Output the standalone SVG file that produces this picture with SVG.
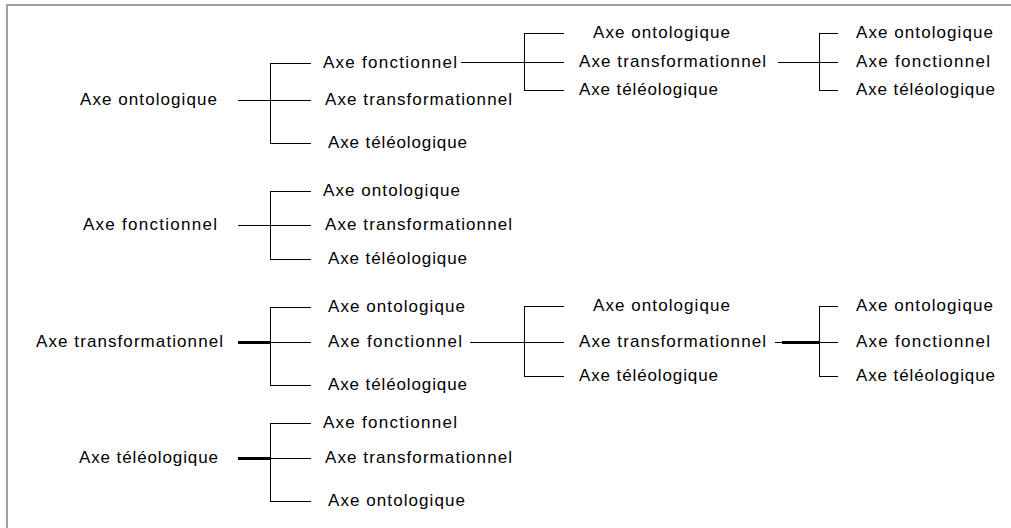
<svg xmlns="http://www.w3.org/2000/svg" width="1011" height="528" viewBox="0 0 1011 528">
<style>
.t{font-family:"Liberation Sans",Arial,sans-serif;font-size:17px;fill:#000}
.c{fill:none;stroke:#000;stroke-width:1}
.k{fill:none;stroke:#000;stroke-width:3}
.b{fill:none;stroke:#a0a0a0;stroke-width:2}
</style>
<rect width="1011" height="528" fill="#fff"/>
<path class="b" d="M7,530 V5 H1015"/>
<g id="connectors">
<path class="c" d="M238,100.5 H270.5 M270.5,63 V143.5 M270,63.5 H311 M270,100.5 H311 M270,143.5 H311"/>
<path class="c" d="M461,62.5 H524.5 M524.5,33 V90.5 M524,33.5 H564 M524,62.5 H564 M524,90.5 H564"/>
<path class="c" d="M778,62.5 H819.5 M819.5,33 V90.5 M819,33.5 H838 M819,62.5 H838 M819,90.5 H838"/>
<path class="c" d="M238,225.5 H270.5 M270.5,191 V259.5 M270,191.5 H311 M270,225.5 H311 M270,259.5 H311"/>
<path class="k" d="M238,342.5 H270"/>
<path class="c" d="M270.5,307 V385.5 M270,307.5 H311 M270,342.5 H311 M270,385.5 H311"/>
<path class="c" d="M470,342.5 H524.5 M524.5,306 V376.5 M524,306.5 H564 M524,342.5 H564 M524,376.5 H564"/>
<path class="c" d="M775,342.5 H782"/>
<path class="k" d="M782,342.5 H819"/>
<path class="c" d="M819.5,306 V376.5 M819,306.5 H838 M819,342.5 H838 M819,376.5 H838"/>
<path class="k" d="M238,458.5 H270"/>
<path class="c" d="M270.5,423 V501.5 M270,423.5 H311 M270,458.5 H311 M270,501.5 H311"/>
</g>
<g id="n_a0"><text class="t" x="80" y="105" textLength="137" lengthAdjust="spacing">Axe ontologique</text></g>
<g id="n_a1"><text class="t" x="323" y="68" textLength="134" lengthAdjust="spacing">Axe fonctionnel</text></g>
<g id="n_a2"><text class="t" x="325" y="105" textLength="187" lengthAdjust="spacing">Axe transformationnel</text></g>
<g id="n_a3"><text class="t" x="328" y="148" textLength="139" lengthAdjust="spacing">Axe téléologique</text></g>
<g id="n_a4"><text class="t" x="593" y="38" textLength="137" lengthAdjust="spacing">Axe ontologique</text></g>
<g id="n_a5"><text class="t" x="579" y="67" textLength="187" lengthAdjust="spacing">Axe transformationnel</text></g>
<g id="n_a6"><text class="t" x="579" y="95" textLength="139" lengthAdjust="spacing">Axe téléologique</text></g>
<g id="n_a7"><text class="t" x="856" y="38" textLength="137" lengthAdjust="spacing">Axe ontologique</text></g>
<g id="n_a8"><text class="t" x="856" y="67" textLength="134" lengthAdjust="spacing">Axe fonctionnel</text></g>
<g id="n_a9"><text class="t" x="856" y="95" textLength="139" lengthAdjust="spacing">Axe téléologique</text></g>
<g id="n_b0"><text class="t" x="83" y="230" textLength="134" lengthAdjust="spacing">Axe fonctionnel</text></g>
<g id="n_b1"><text class="t" x="323" y="196" textLength="137" lengthAdjust="spacing">Axe ontologique</text></g>
<g id="n_b2"><text class="t" x="325" y="230" textLength="187" lengthAdjust="spacing">Axe transformationnel</text></g>
<g id="n_b3"><text class="t" x="328" y="264" textLength="139" lengthAdjust="spacing">Axe téléologique</text></g>
<g id="n_c0"><text class="t" x="36" y="347" textLength="187" lengthAdjust="spacing">Axe transformationnel</text></g>
<g id="n_c1"><text class="t" x="328" y="312" textLength="137" lengthAdjust="spacing">Axe ontologique</text></g>
<g id="n_c2"><text class="t" x="328" y="347" textLength="134" lengthAdjust="spacing">Axe fonctionnel</text></g>
<g id="n_c3"><text class="t" x="328" y="390" textLength="139" lengthAdjust="spacing">Axe téléologique</text></g>
<g id="n_c4"><text class="t" x="593" y="311" textLength="137" lengthAdjust="spacing">Axe ontologique</text></g>
<g id="n_c5"><text class="t" x="579" y="347" textLength="187" lengthAdjust="spacing">Axe transformationnel</text></g>
<g id="n_c6"><text class="t" x="579" y="381" textLength="139" lengthAdjust="spacing">Axe téléologique</text></g>
<g id="n_c7"><text class="t" x="856" y="311" textLength="137" lengthAdjust="spacing">Axe ontologique</text></g>
<g id="n_c8"><text class="t" x="856" y="347" textLength="134" lengthAdjust="spacing">Axe fonctionnel</text></g>
<g id="n_c9"><text class="t" x="856" y="381" textLength="139" lengthAdjust="spacing">Axe téléologique</text></g>
<g id="n_d0"><text class="t" x="79" y="463" textLength="139" lengthAdjust="spacing">Axe téléologique</text></g>
<g id="n_d1"><text class="t" x="323" y="428" textLength="134" lengthAdjust="spacing">Axe fonctionnel</text></g>
<g id="n_d2"><text class="t" x="325" y="463" textLength="187" lengthAdjust="spacing">Axe transformationnel</text></g>
<g id="n_d3"><text class="t" x="328" y="506" textLength="137" lengthAdjust="spacing">Axe ontologique</text></g>
</svg>
